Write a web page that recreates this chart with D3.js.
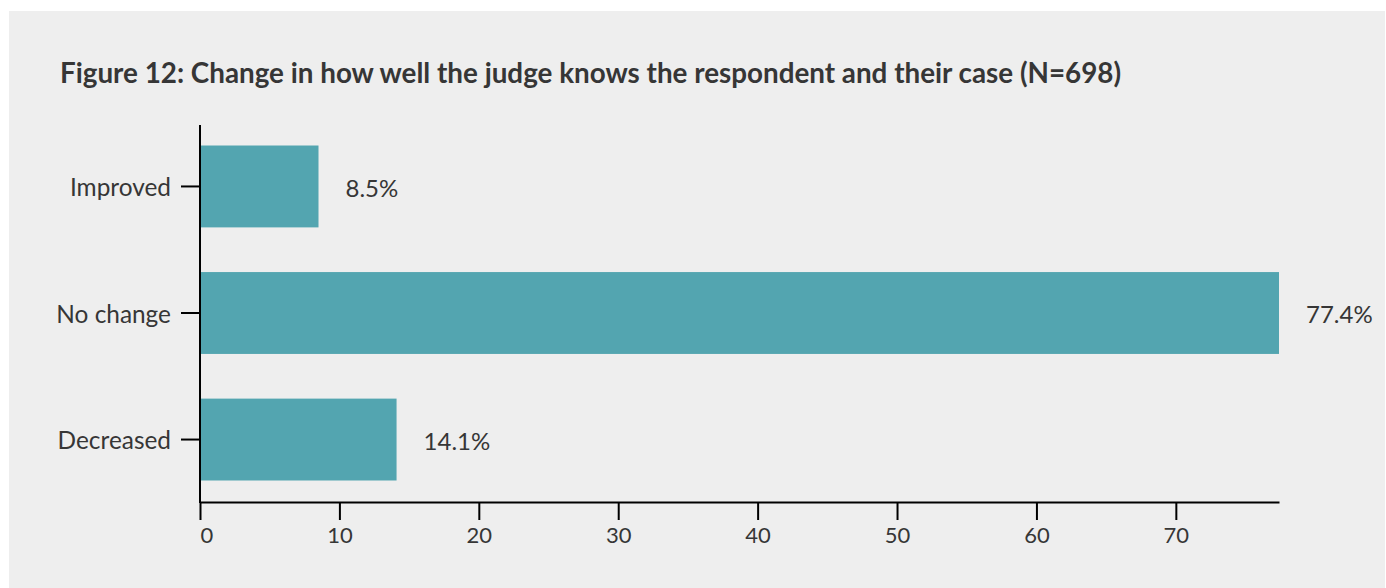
<!DOCTYPE html>
<html>
<head>
<meta charset="utf-8">
<script src="https://cdn.jsdelivr.net/npm/d3@7"></script>
<style>
  html, body { margin: 0; padding: 0; background: #ffffff; }
  svg { display: block; }
  text { font-family: Lato, "Open Sans", sans-serif; fill: #363636; }
</style>
</head>
<body>
<svg id="chart" width="1386" height="588"></svg>
<script>
// Survey responses: change in how well the judge knows the respondent
const categories = ["Improved", "No change", "Decreased"];
const percentages = [8.5, 77.4, 14.1];
const xTicks = [0, 10, 20, 30, 40, 50, 60, 70];
const title = "Figure 12: Change in how well the judge knows the respondent and their case (N=698)";

const svg = d3.select("#chart");

// grey panel
svg.append("rect")
  .attr("x", 9).attr("y", 11)
  .attr("width", 1376).attr("height", 577)
  .attr("fill", "#eeeeee");

svg.append("text")
  .attr("x", 60).attr("y", 83)
  .attr("font-size", 27.8)
  .attr("font-weight", 700)
  .attr("fill", "#363636")
  .text(title);

const x = d3.scaleLinear()
  .domain([0, d3.max(percentages)])
  .range([200, 1279]);

const y = d3.scaleBand()
  .domain(categories)
  .range([124, 502])
  .paddingInner(0.353)
  .paddingOuter(0.17);

const data = categories.map((c, i) => ({ cat: c, val: percentages[i] }));

// bars
svg.append("g").selectAll("rect")
  .data(data)
  .join("rect")
  .attr("x", x(0))
  .attr("y", d => y(d.cat))
  .attr("width", d => x(d.val) - x(0))
  .attr("height", y.bandwidth())
  .attr("fill", "#53a5b0");

// value labels
svg.append("g").selectAll("text")
  .data(data)
  .join("text")
  .attr("x", d => x(d.val) + 27)
  .attr("y", d => y(d.cat) + y.bandwidth() / 2)
  .attr("dy", "0.42em")
  .attr("font-size", 24)
  .text(d => d.val.toFixed(1) + "%");

// y axis
const yAxis = svg.append("g")
  .attr("transform", `translate(${x(0)},0)`)
  .call(d3.axisLeft(y).tickSize(19).tickPadding(10).tickSizeOuter(0));
yAxis.select(".domain").remove();
yAxis.selectAll(".tick line").attr("stroke", "#000").attr("stroke-width", 2);
yAxis.selectAll(".tick text")
  .attr("font-family", "Lato, sans-serif")
  .attr("font-size", 24.4)
  .attr("dy", "0.4em")
  .attr("fill", "#363636");

// y axis line
svg.append("line")
  .attr("x1", x(0)).attr("x2", x(0))
  .attr("y1", 125).attr("y2", 503)
  .attr("stroke", "#000").attr("stroke-width", 2);

// x axis
const xAxis = svg.append("g")
  .attr("transform", "translate(0,502)")
  .call(d3.axisBottom(x).tickValues(xTicks).tickSize(18).tickPadding(7).tickSizeOuter(0));
xAxis.select(".domain").attr("stroke", "#000").attr("stroke-width", 2);
xAxis.selectAll(".tick line").attr("stroke", "#000").attr("stroke-width", 2);
xAxis.selectAll(".tick text")
  .attr("font-family", "Lato, sans-serif")
  .attr("font-size", 22)
  .attr("fill", "#363636");
xAxis.selectAll(".tick text").filter(d => d === 0).attr("text-anchor", "start");
</script>
</body>
</html>
